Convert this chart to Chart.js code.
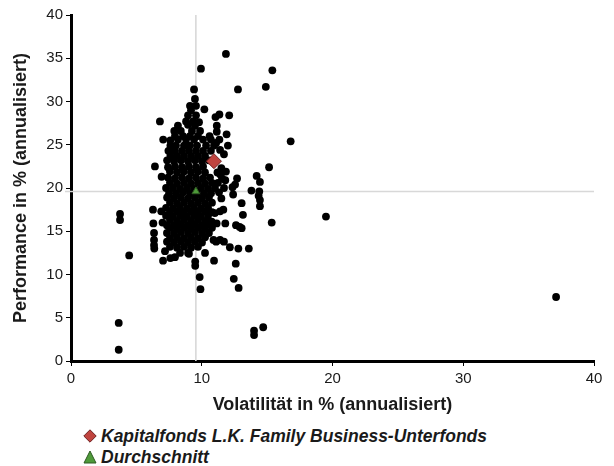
<!DOCTYPE html>
<html><head><meta charset="utf-8">
<script src="https://cdn.jsdelivr.net/npm/chart.js@4"></script>
<style>
html,body{margin:0;padding:0;background:#fff;}
#wrap{position:relative;width:614px;height:466px;overflow:hidden;}
#box{position:absolute;left:0;top:0;width:614px;height:420px;}
.leg{position:absolute;left:83px;font:italic bold 17.5px "Liberation Sans",Arial,sans-serif;color:#1a1a1a;display:flex;align-items:center;white-space:nowrap;height:20px;}
.leg svg{margin-right:4px;}
</style></head>
<body><div id="wrap"><div id="box"><canvas id="c"></canvas></div><div id="legend"></div></div>
<script>
const xTitle = 'Volatilität in % (annualisiert)';
const yTitle = 'Performance in % (annualisiert)';
const xRange = [0, 40, 10];
const yRange = [0, 40, 5];
const fundLabel = 'Kapitalfonds L.K. Family Business-Unterfonds';
const fundPoint = [10.93, 23.1];
const averageLabel = 'Durchschnitt';
const averagePoint = [9.55, 19.6];
const peerFunds = [
 [11.85,35.5],[9.94,33.8],[15.4,33.6],[14.9,31.7],[12.77,31.4],[9.41,31.4],
 [16.8,25.4],[19.5,16.7],[37.1,7.4],
 [3.75,17.0],[3.75,16.3],[4.45,12.2],[3.65,4.4],[3.65,1.3],
 [14.0,3.5],[14.0,3.0],[14.7,3.9],
 [15.35,16.0],[15.15,22.4],
 [9.48,30.3],[9.1,29.5],[9.56,29.5],[9.18,29.0],[10.2,29.1],
 [8.95,28.4],[9.56,28.4],[11.35,28.5],[11.05,28.2],[12.1,28.4],
 [6.8,27.7],[8.8,27.7],[9.33,27.7],[9.79,27.6],
 [8.18,27.2],[8.95,27.3],[9.48,27.2],[11.15,27.2],
 [7.9,26.6],[8.4,26.6],[9.25,26.6],[9.87,26.6],[11.15,26.5],
 [7.95,26.0],[8.57,26.0],[9.1,26.0],[9.71,26.0],[10.6,26.0],[11.9,26.2],
 [7.05,25.6],[7.6,25.5],[8.18,25.6],[8.8,25.6],[9.41,25.6],[10.1,25.6],[10.7,25.6],[11.1,25.2],[11.35,25.6],
 [7.6,24.9],[8.03,24.9],[8.64,24.9],[9.1,24.9],[9.64,24.9],[10.33,24.9],[10.94,24.9],[12.0,24.9],
 [7.45,24.3],[7.95,24.3],[8.49,24.3],[9.02,24.3],[9.56,24.3],[10.1,24.3],[10.7,24.3],[11.4,24.4],
 [7.6,23.7],[8.11,23.7],[8.64,23.7],[9.18,23.7],[9.71,23.7],[10.25,23.7],[11.7,23.9],
 [7.35,23.2],[7.88,23.1],[8.41,23.2],[8.95,23.1],[9.48,23.2],[10.02,23.1],[10.55,23.2],
 [6.42,22.5],[7.42,22.4],[7.95,22.5],[8.49,22.4],[9.02,22.5],[9.56,22.4],[10.1,22.5],[11.5,22.3],
 [7.57,21.9],[8.11,21.8],[8.64,21.9],[9.18,21.8],[9.71,21.9],[10.25,21.8],[11.2,21.8],[11.85,21.9],[11.4,21.6],
 [6.93,21.3],[7.42,21.2],[7.95,21.1],[8.49,21.2],[9.02,21.1],[9.56,21.2],[10.1,21.1],[10.63,21.2],[11.55,21.1],[12.7,21.1],[14.2,21.4],
 [7.57,20.6],[8.11,20.5],[8.64,20.6],[9.18,20.5],[9.71,20.6],[10.25,20.5],[10.78,20.6],[11.24,20.6],[11.8,20.9],[12.35,20.1],[12.55,20.4],[14.45,20.7],
 [7.27,20.0],[7.8,20.0],[8.34,19.9],[8.87,20.0],[9.41,19.9],[9.94,20.0],[10.48,19.9],[11.01,20.0],[11.7,20.0],
 [7.5,19.4],[8.03,19.4],[8.57,19.5],[9.1,19.4],[9.64,19.3],[10.17,19.4],[10.71,19.4],[11.32,19.5],[12.4,19.25],[13.8,19.7],[14.4,19.6],[14.35,19.1],
 [7.35,18.9],[7.88,18.8],[8.41,18.9],[8.95,18.8],[9.48,18.9],[10.02,18.8],[10.55,18.9],[11.5,18.8],[14.45,18.6],
 [7.57,18.3],[8.11,18.2],[8.64,18.3],[9.18,18.2],[9.71,18.3],[10.25,18.2],[10.78,18.3],[13.05,18.25],[14.45,17.9],
 [7.27,17.7],[7.8,17.6],[8.34,17.7],[8.87,17.6],[9.41,17.7],[9.94,17.6],[10.48,17.7],[11.65,17.5],
 [6.27,17.5],[6.9,17.3],[7.57,17.2],[8.11,17.3],[8.64,17.2],[9.18,17.3],[9.71,17.2],[10.25,17.3],[10.78,17.2],[11.4,17.3],[11.0,17.1],
 [7.27,16.8],[7.8,16.7],[8.34,16.8],[8.87,16.7],[9.41,16.8],[9.94,16.7],[10.48,16.8],[13.15,16.9],
 [7.57,16.3],[8.11,16.2],[8.64,16.3],[9.18,16.2],[9.71,16.3],[10.25,16.2],[10.4,16.1],[10.76,16.1],
 [6.3,15.9],[7.0,16.0],[11.14,15.9],[11.8,15.9],
 [7.34,15.7],[7.88,15.7],[8.41,15.8],[8.95,15.7],[9.48,15.8],[10.02,15.7],[10.55,15.8],[12.62,15.7],
 [7.57,15.4],[8.11,15.3],[8.64,15.4],[9.18,15.3],[9.71,15.4],[10.25,15.3],[10.78,15.4],[12.9,15.5],[13.05,15.35],
 [6.35,14.8],[7.34,14.8],[7.88,14.8],[8.41,14.9],[8.95,14.8],[9.48,14.9],[10.02,14.8],[10.55,14.8],
 [7.57,14.2],[8.11,14.3],[8.64,14.2],[9.18,14.3],[9.71,14.2],[10.25,14.3],[10.9,14.0],[11.4,14.0],
 [6.35,14.0],[7.34,13.8],[7.88,13.7],[8.41,13.8],[8.95,13.7],[9.48,13.8],[10.02,13.7],[11.1,13.8],[11.7,13.8],
 [6.35,13.4],[6.37,13.0],[7.57,13.2],[8.11,13.1],[8.64,13.2],[9.18,13.1],[9.71,13.2],[12.15,13.15],[12.8,13.0],[13.6,13.0],
 [7.19,12.7],[8.34,12.5],[8.95,12.5],[9.02,12.4],[10.25,12.5],[7.6,11.9],[7.95,12.0],[7.04,11.6],
 [9.5,11.5],[9.5,11.0],[10.94,11.6],[12.6,11.25],[9.84,9.7],[12.45,9.5],[12.82,8.45],[9.9,8.3]
];

const FONT = '"Liberation Sans", Arial, sans-serif';
const crosshair = {
  id: 'crosshair',
  beforeDatasetsDraw(chart) {
    const {ctx, chartArea: a, scales: {x, y}} = chart;
    const px = x.getPixelForValue(averagePoint[0]);
    const py = y.getPixelForValue(averagePoint[1]);
    ctx.save();
    ctx.strokeStyle = '#d8d8d8';
    ctx.lineWidth = 1.6;
    ctx.beginPath();
    ctx.moveTo(px, a.top); ctx.lineTo(px, a.bottom);
    ctx.moveTo(a.left - 6, py); ctx.lineTo(a.right, py);
    ctx.stroke();
    ctx.restore();
  }
};

const datasets = [
  {label: fundLabel, data: [{x: fundPoint[0], y: fundPoint[1]}], pointStyle: 'rectRot', pointRadius: 7.5,
   backgroundColor: '#c0443f', borderColor: '#6e2222', borderWidth: 1},
  {label: averageLabel, data: [{x: averagePoint[0], y: averagePoint[1]}], pointStyle: 'triangle', pointRadius: 4.5,
   backgroundColor: '#4f9a3a', borderColor: '#2e5a22', borderWidth: 1},
  {label: 'peers', data: peerFunds.map(p => ({x: p[0], y: p[1]})), pointStyle: 'circle', pointRadius: 3.9,
   backgroundColor: '#000', borderWidth: 0}
];

const axisCommon = {
  type: 'linear',
  grid: {display: true, drawOnChartArea: false, drawTicks: true, tickLength: 5, color: '#000', lineWidth: 1},
  border: {display: true, color: '#000', width: 3},
};

new Chart(document.getElementById('c'), {
  type: 'scatter',
  data: {datasets},
  options: {
    responsive: true, maintainAspectRatio: false, animation: false, events: [],
    layout: {padding: {top: 15, right: 20, left: 0, bottom: 0}},
    plugins: {legend: {display: false}, tooltip: {enabled: false}},
    scales: {
      x: Object.assign({}, axisCommon, {
        min: xRange[0], max: xRange[1],
        ticks: {stepSize: xRange[2], color: '#1a1a1a', padding: 4, font: {family: FONT, size: 15}},
        title: {display: true, text: xTitle, color: '#1a1a1a', padding: {top: 2, bottom: 4}, font: {family: FONT, size: 18, weight: 'bold'}},
        afterFit(s) { s.height = 59; }
      }),
      y: Object.assign({}, axisCommon, {
        min: yRange[0], max: yRange[1],
        ticks: {stepSize: yRange[2], color: '#1a1a1a', padding: 3, font: {family: FONT, size: 15}},
        title: {display: true, text: yTitle, color: '#1a1a1a', padding: {top: 10, bottom: 2}, font: {family: FONT, size: 18, weight: 'bold'}},
        afterFit(s) { s.width = 71; }
      })
    }
  },
  plugins: [crosshair]
});

// HTML legend built from the datasets
const legend = document.getElementById('legend');
const legendTops = [426, 447];
datasets.slice(0, 2).forEach((ds, i) => {
  const row = document.createElement('div');
  row.className = 'leg';
  row.style.top = legendTops[i] + 'px';
  const shape = ds.pointStyle === 'rectRot'
    ? '<polygon points="7,0.8 13.2,7 7,13.2 0.8,7"/>'
    : '<polygon points="7,1 13,13 1,13"/>';
  row.innerHTML = '<svg width="14" height="14" viewBox="0 0 14 14"><g fill="' + ds.backgroundColor +
    '" stroke="' + ds.borderColor + '" stroke-width="1">' + shape + '</g></svg>';
  const span = document.createElement('span');
  span.textContent = ds.label;
  row.appendChild(span);
  legend.appendChild(row);
});
</script>
</body></html>
